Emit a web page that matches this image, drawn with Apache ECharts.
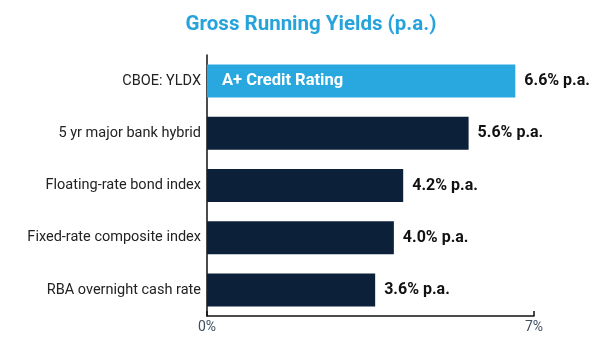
<!DOCTYPE html>
<html>
<head>
<meta charset="utf-8">
<script src="https://cdn.jsdelivr.net/npm/echarts@6/dist/echarts.min.js"></script>
<style>
html,body{margin:0;padding:0;background:#fff;}
#chart{width:595px;height:350px;}
</style>
</head>
<body>
<div id="chart"></div>
<script>
var categories = ["CBOE: YLDX", "5 yr major bank hybrid", "Floating-rate bond index", "Fixed-rate composite index", "RBA overnight cash rate"];
var yields = [6.6, 5.6, 4.2, 4.0, 3.6];
var insideLabels = ["A+ Credit Rating", "", "", "", ""];
var axisTicks = [0, 7];

var colors = ["#29a8e0", "#0c2039", "#0c2039", "#0c2039", "#0c2039"];
var FONT = "Roboto, 'DejaVu Sans', sans-serif";

var chart = echarts.init(document.getElementById('chart'), null, {renderer: 'canvas'});
chart.setOption({
  animation: false,
  backgroundColor: '#ffffff',
  title: {
    text: 'Gross Running Yields (p.a.)',
    left: 306, top: 9, textAlign: 'center',
    textStyle: {color: '#27a3dc', fontFamily: FONT, fontWeight: 'bold', fontSize: 20.5}
  },
  grid: {left: 207, right: 61, top: 55, bottom: 34, containLabel: false},
  xAxis: {
    type: 'value', min: axisTicks[0], max: axisTicks[1], interval: axisTicks[1] - axisTicks[0],
    splitLine: {show: false},
    axisLine: {show: true, lineStyle: {color: '#111', width: 1.5}},
    axisTick: {show: true, inside: true, length: 5, lineStyle: {color: '#111', width: 1.5}},
    axisLabel: {formatter: '{value}%', color: '#3e4f62', fontFamily: FONT, fontSize: 14, margin: 4}
  },
  yAxis: {
    type: 'category', data: categories, inverse: true,
    axisLine: {show: true, lineStyle: {color: '#111', width: 1.5}},
    axisTick: {show: false},
    axisLabel: {color: '#222', fontFamily: FONT, fontSize: 14.5, margin: 6}
  },
  series: [
    {
      type: 'bar', barWidth: 33,
      data: yields.map(function (v, i) { return {value: v, itemStyle: {color: colors[i]}}; }),
      label: {
        show: true, position: 'right', distance: 9,
        formatter: function (p) { return p.value.toFixed(1) + '% p.a.'; },
        color: '#111', fontFamily: FONT, fontWeight: 'bold', fontSize: 16
      }
    },
    {
      type: 'bar', barWidth: 33, barGap: '-100%', silent: true,
      data: yields.map(function (v, i) { return insideLabels[i] ? v : '-'; }),
      itemStyle: {color: 'rgba(0,0,0,0)'},
      label: {
        show: true, position: 'insideLeft', distance: 15,
        formatter: function (p) { return insideLabels[p.dataIndex]; },
        color: '#fff', fontFamily: FONT, fontWeight: 'bold', fontSize: 16.5
      }
    }
  ]
});
</script>
</body>
</html>
